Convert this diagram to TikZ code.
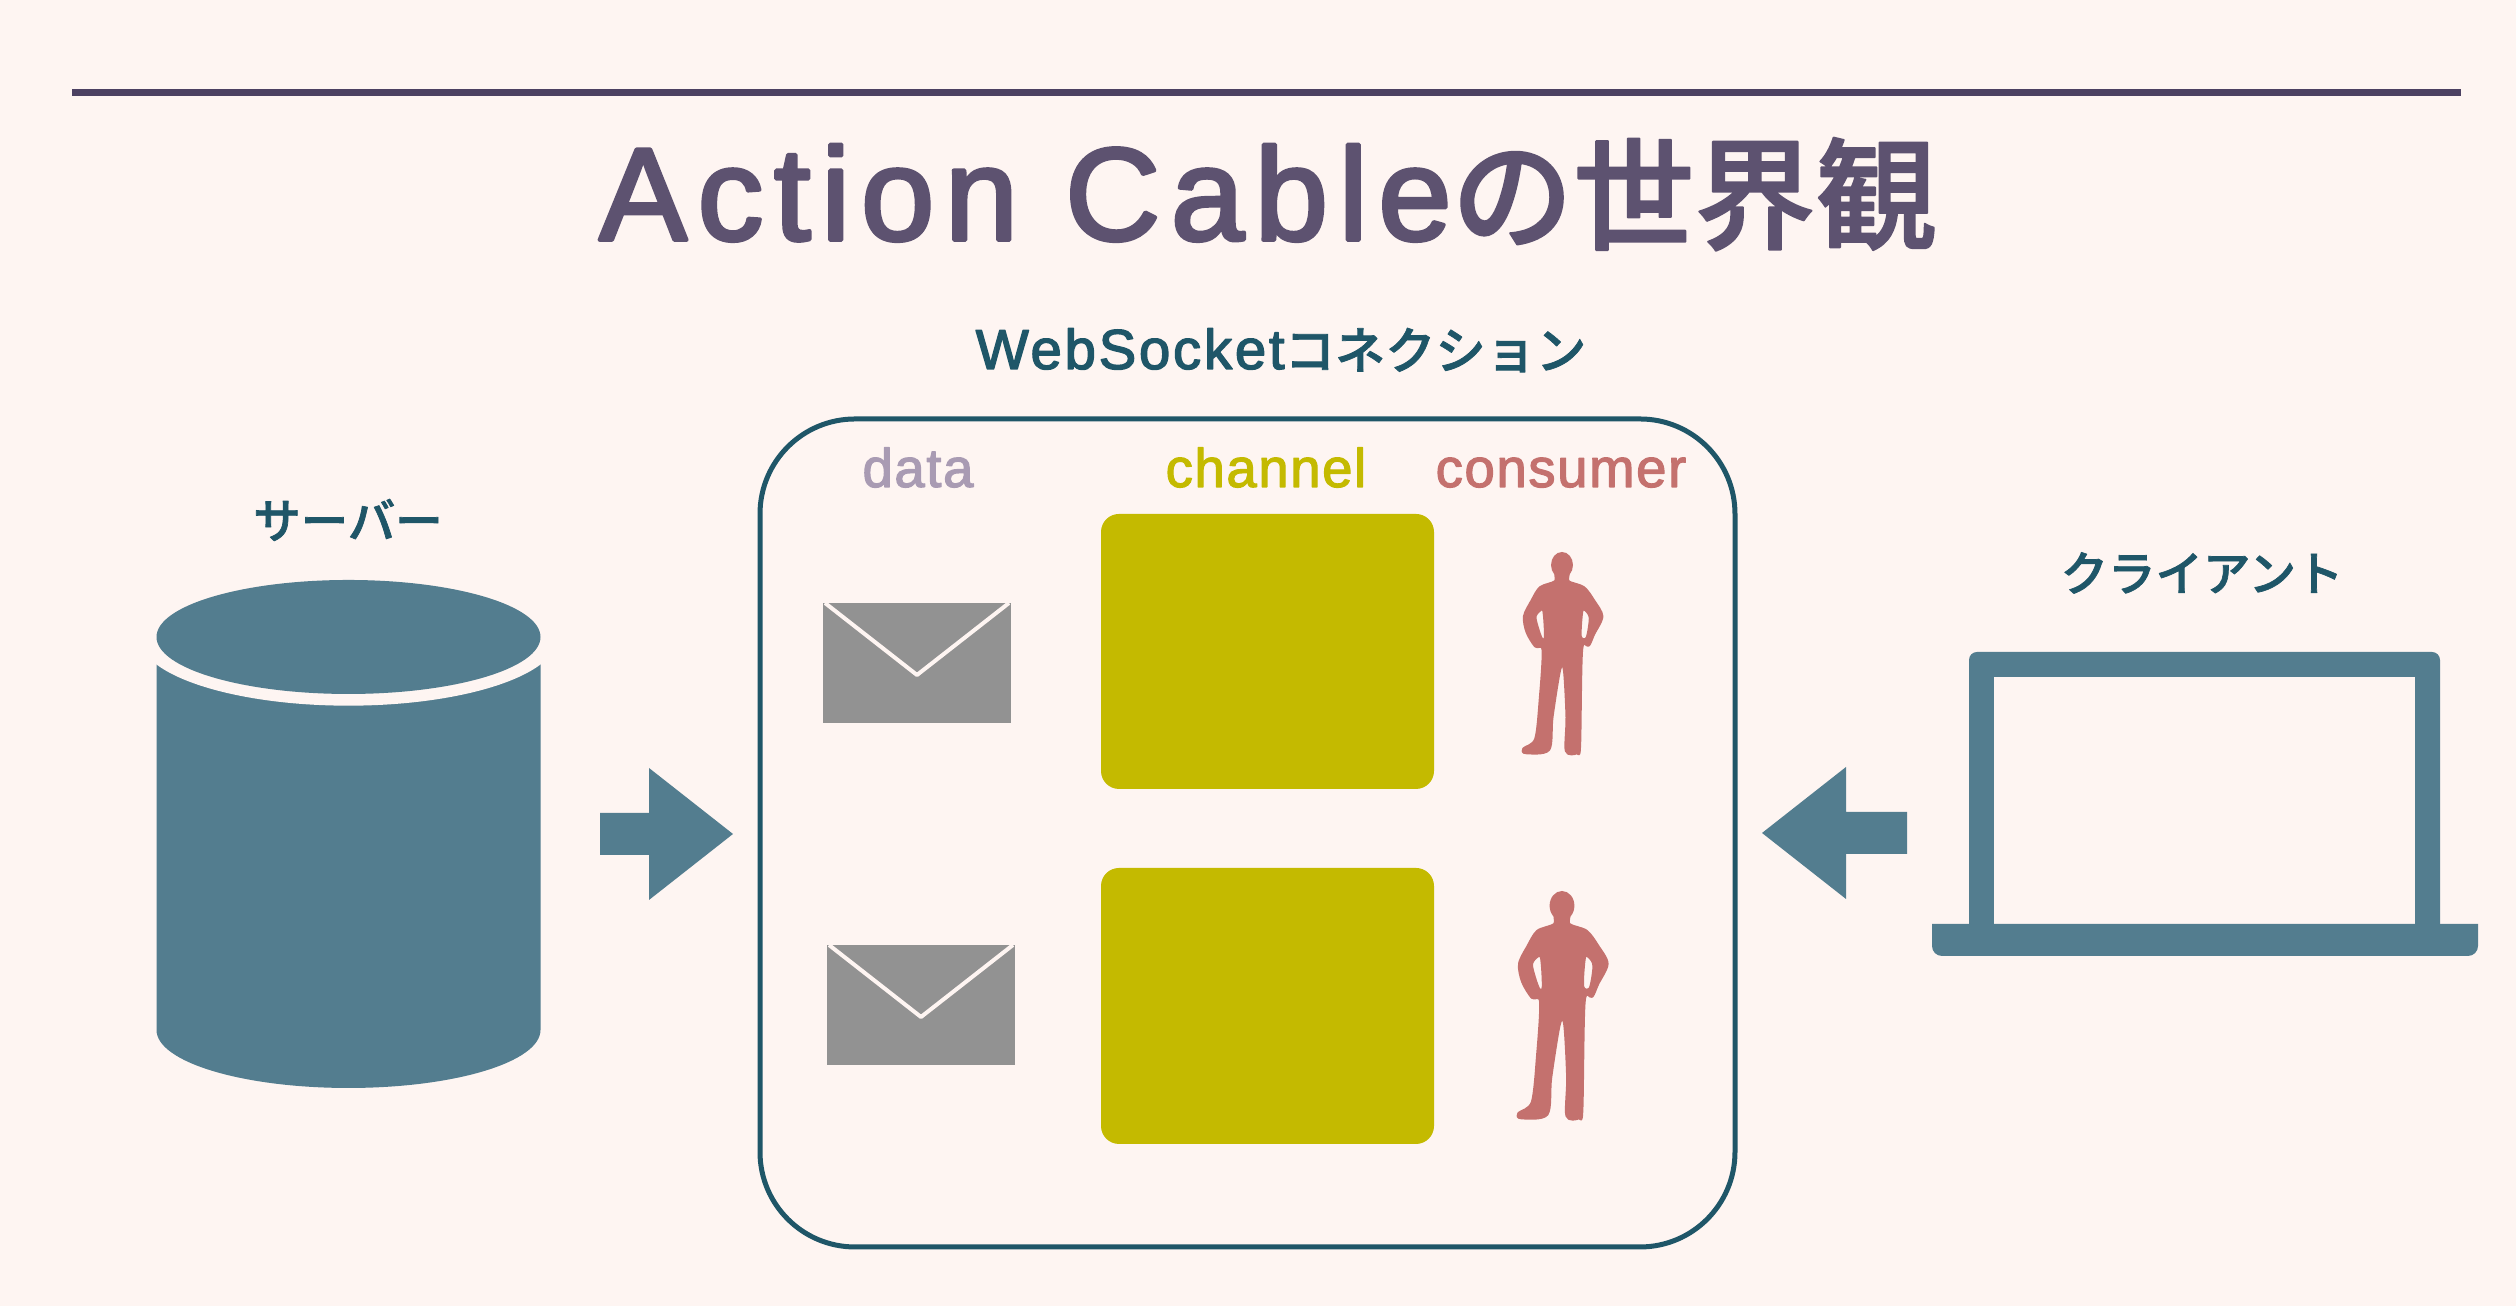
\documentclass[tikz,border=0pt]{standalone}
\usepackage{fontspec}
\setmainfont{Liberation Sans}
\newfontfamily\cjkfont[FakeBold=1.5]{Noto Sans CJK JP Medium}
\newfontfamily\headfont[FakeBold=2.8,LetterSpace=8]{Liberation Sans}
\newfontfamily\headcjkfont[FakeBold=1.5]{Noto Sans CJK JP Medium}
\newfontfamily\wsfont[FakeBold=2.5,LetterSpace=5]{Liberation Sans}
\newfontfamily\tagfont[FakeBold=2.2,LetterSpace=3]{Liberation Sans}
\definecolor{paper}{HTML}{FEF5F2}
\definecolor{titleink}{HTML}{5D5270}
\definecolor{ruleink}{HTML}{4C4162}
\definecolor{tealink}{HTML}{1F5668}
\definecolor{slate}{HTML}{537D8F}
\definecolor{mailgray}{HTML}{929292}
\definecolor{datalilac}{HTML}{A99BB3}
\definecolor{olive}{HTML}{C4BA00}
\definecolor{coral}{HTML}{C4716E}
\tikzset{
  tealtext/.style={text=tealink,inner sep=0pt},
  tagtext/.style={inner sep=0pt,anchor=base},
  channelbox/.style={fill=olive,rounded corners=0.18cm},
  mailicon/.pic={
    \fill[mailgray] (0,0) rectangle (1.88,1.2);
    \draw[paper,line width=0.04cm,line cap=butt] (0.02,1.2) -- (0.94,0.48) -- (1.86,1.2);
  },
  personfig/.pic={
    \begin{scope}[x=0.00333cm,y=-0.00395cm,shift={(-305,-82)}]
    \fill[coral] (305,115) ellipse [x radius=33,y radius=33];
    \filldraw[coral,line width=0.03cm,even odd rule] plot[smooth cycle,tension=0.5] coordinates {
      (288,135) (285,157) (240,172) (215,205) (192,245) (200,285) (225,320) (248,330)
      (240,450) (226,555) (190,580) (197,590) (265,582) (275,500) (298,380) (312,380)
      (320,500) (318,585) (350,590) (358,570) (364,330) (385,318) (400,290) (425,245)
      (400,205) (370,172) (324,157) (322,135)}
      plot[smooth cycle,tension=0.5] coordinates {(234,232) (224,250) (242,300) (255,298) (250,230)}
      plot[smooth cycle,tension=0.5] coordinates {(365,230) (360,296) (380,300) (390,250) (378,230)};
    \end{scope}
  }
}
\begin{document}
\begin{tikzpicture}[line cap=round,line join=round,x=1.0cm,y=1.0cm]
\useasboundingbox (0,0) rectangle (25.16,13.06);
\fill[paper] (0,0) rectangle (25.16,13.06);
\draw[ruleink,line width=0.07cm,line cap=butt] (0.72,12.13) -- (24.61,12.13);
\node (title) [text=titleink,inner sep=0pt,anchor=base] at (12.68,10.66)
  {\fontsize{37.5}{40}\headfont Action Cable\fontsize{34.5}{40}\headcjkfont の世界観};
\node (wsocket) [tealtext,anchor=base] at (12.81,9.37)
  {\fontsize{16}{18}\wsfont WebSocket\fontsize{14.3}{18}\cjkfont コネクション};
% server cylinder
\node (server) [tealtext] at (3.48,7.86) {\fontsize{13.5}{16}\cjkfont サーバー};
\fill[slate] (1.565,6.69) -- (1.565,2.76) arc (180:360:1.92 and 0.58) -- (5.405,6.69) -- cycle;
\fill[paper] (3.485,6.69) ellipse (2.095 and 0.687);
\fill[slate] (3.485,6.69) ellipse (1.92 and 0.57);
\fill[slate] (6.00,4.93) -- (6.49,4.93) -- (6.49,5.38) -- (7.33,4.72) -- (6.49,4.06) -- (6.49,4.51) -- (6.00,4.51) -- cycle;
% connection box
\draw[tealink,line width=0.05cm,rounded corners=0.95cm] (7.60,0.59) rectangle (17.35,8.87);
\node (data) [tagtext,text=datalilac] at (9.18,8.19) {\fontsize{15.5}{18}\tagfont data};
\node (channel) [tagtext,text=olive] at (12.66,8.19) {\fontsize{15.5}{18}\tagfont channel};
\node (consumer) [tagtext,text=coral] at (15.61,8.19) {\fontsize{15.5}{18}\tagfont consumer};
\pic at (8.23,5.83) {mailicon};
\pic at (8.27,2.41) {mailicon};
\fill[channelbox] (11.01,5.17) rectangle (14.34,7.92);
\fill[channelbox] (11.01,1.62) rectangle (14.34,4.38);
\pic at (15.62,7.54) {personfig};
\pic[scale=1.13] at (15.62,4.15) {personfig};
% client laptop
\node (client) [tealtext] at (22.02,7.33) {\fontsize{13.5}{16}\cjkfont クライアント};
\fill[slate] (19.07,4.94) -- (18.46,4.94) -- (18.46,5.39) -- (17.62,4.73) -- (18.46,4.07) -- (18.46,4.52) -- (19.07,4.52) -- cycle;
\fill[slate,rounded corners=0.08cm] (19.69,3.6) -- (19.69,6.54) -- (24.40,6.54) -- (24.40,3.6) -- cycle;
\fill[paper] (19.94,3.82) rectangle (24.15,6.29);
\fill[slate] (19.32,3.82) [rounded corners=0.1cm] -- (19.32,3.50) -- (24.78,3.50) [sharp corners] -- (24.78,3.82) -- cycle;
\end{tikzpicture}
\end{document}
